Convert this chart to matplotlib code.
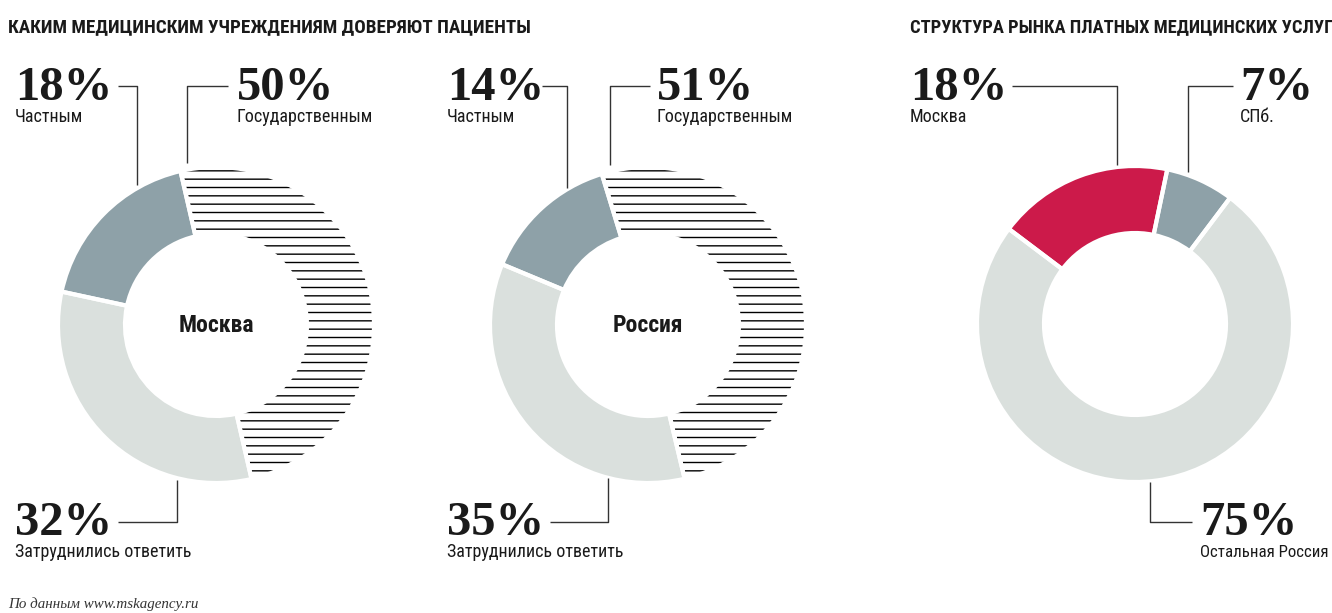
import matplotlib
matplotlib.use("Agg")
import matplotlib.pyplot as plt
from matplotlib import font_manager as fm

W, H = 1332, 613

# data
left_title = "КАКИМ МЕДИЦИНСКИМ УЧРЕЖДЕНИЯМ ДОВЕРЯЮТ ПАЦИЕНТЫ"
right_title = "СТРУКТУРА РЫНКА ПЛАТНЫХ МЕДИЦИНСКИХ УСЛУГ"
source = "По данным www.mskagency.ru"

trust_labels = ["Государственным", "Затруднились ответить", "Частным"]
moscow_trust = [50, 32, 18]
russia_trust = [51, 35, 14]

market_labels = ["Москва", "СПб.", "Остальная Россия"]
market_share = [18, 7, 75]

GRAY = "#8ea1a8"
LIGHT = "#dae0dd"
RED = "#cc1a4a"
LINE = "#333333"

names = {f.name for f in fm.fontManager.ttflist}


def pick(*cands):
    for c in cands:
        if c in names:
            return c
    return "DejaVu Sans"


COND = pick("Roboto Condensed", "DejaVu Sans Condensed", "Liberation Sans Narrow", "Roboto")
SERIF = pick("Liberation Serif", "DejaVu Serif")

fig = plt.figure(figsize=(W / 100, H / 100), dpi=100)
ax = fig.add_axes([0, 0, 1, 1])


def Y(y):
    return H - y


def donut(vals, colors, cx, cy, start, hatch_idx=None):
    ax.pie(vals, colors=colors, startangle=start, counterclock=False,
           center=(cx, Y(cy)), radius=158,
           wedgeprops=dict(width=67, linewidth=0))
    if hatch_idx is not None:
        hw, _ = ax.pie(vals, startangle=start, counterclock=False,
                       center=(cx, Y(cy)), radius=158,
                       wedgeprops=dict(width=67, linewidth=0))
        for i, w in enumerate(hw):
            if i == hatch_idx:
                w.set_facecolor("none")
                w.set_edgecolor("black")
                w.set_hatch("--")
            else:
                w.set_visible(False)
    # white gaps between slices
    ax.pie(vals, startangle=start, counterclock=False, center=(cx, Y(cy)), radius=158,
           wedgeprops=dict(width=67, facecolor="none", edgecolor="white", linewidth=3))


def label(x, y, pct, txt, sub_size=13):
    ax.text(x, Y(y), f"{pct}%", fontsize=35, fontweight="bold", family=SERIF,
            color="#1a1a1a", va="baseline")
    ax.text(x, Y(y + 22), txt, fontsize=sub_size, family=COND, color="#1a1a1a",
            va="baseline")


def leader(pts):
    xs = [p[0] for p in pts]
    ys = [Y(p[1]) for p in pts]
    ax.plot(xs, ys, color=LINE, lw=1, solid_capstyle="butt")


# Moscow trust
donut(moscow_trust, ["white", LIGHT, GRAY], 216, 325, 103, hatch_idx=0)
ax.text(216, Y(326), "Москва", fontsize=17, fontweight="bold", family=COND,
        ha="center", va="center", color="#1a1a1a")
label(15, 100, moscow_trust[2], trust_labels[2])
leader([(118, 86), (137, 86), (137, 185)])
label(237, 100, moscow_trust[0], trust_labels[0])
leader([(228, 86), (187, 86), (187, 163)])
label(15, 535, moscow_trust[1], trust_labels[1])
leader([(118, 522), (177, 522), (177, 480)])

# Russia trust
donut(russia_trust, ["white", LIGHT, GRAY], 648, 325, 107, hatch_idx=0)
ax.text(648, Y(326), "Россия", fontsize=17, fontweight="bold", family=COND,
        ha="center", va="center", color="#1a1a1a")
label(447, 100, russia_trust[2], trust_labels[2])
leader([(542, 86), (567, 86), (567, 188)])
label(657, 100, russia_trust[0], trust_labels[0])
leader([(650, 86), (610, 86), (610, 165)])
label(447, 535, russia_trust[1], trust_labels[1])
leader([(550, 522), (608, 522), (608, 478)])

# paid market structure
donut(market_share, [RED, GRAY, LIGHT], 1135, 324, 143)
label(910, 100, market_share[0], market_labels[0])
leader([(1012, 86), (1117, 86), (1117, 165)])
label(1240, 100, market_share[1], market_labels[1])
leader([(1233, 86), (1188, 86), (1188, 172)])
label(1200, 535, market_share[2], market_labels[2], sub_size=12.2)
leader([(1192, 522), (1150, 522), (1150, 482)])

ax.text(8, Y(32), left_title, fontsize=13.8, fontweight="bold", family=COND,
        color="#1a1a1a", va="baseline")
ax.text(910, Y(32), right_title, fontsize=13.3, fontweight="bold", family=COND,
        color="#1a1a1a", va="baseline")
ax.text(8, Y(608), source, fontsize=10.8, style="italic", family=SERIF,
        color="#333333", va="baseline")

ax.set_xlim(0, W)
ax.set_ylim(0, H)
ax.set_aspect("auto")
ax.axis("off")

fig.savefig("out.png", dpi=100)
